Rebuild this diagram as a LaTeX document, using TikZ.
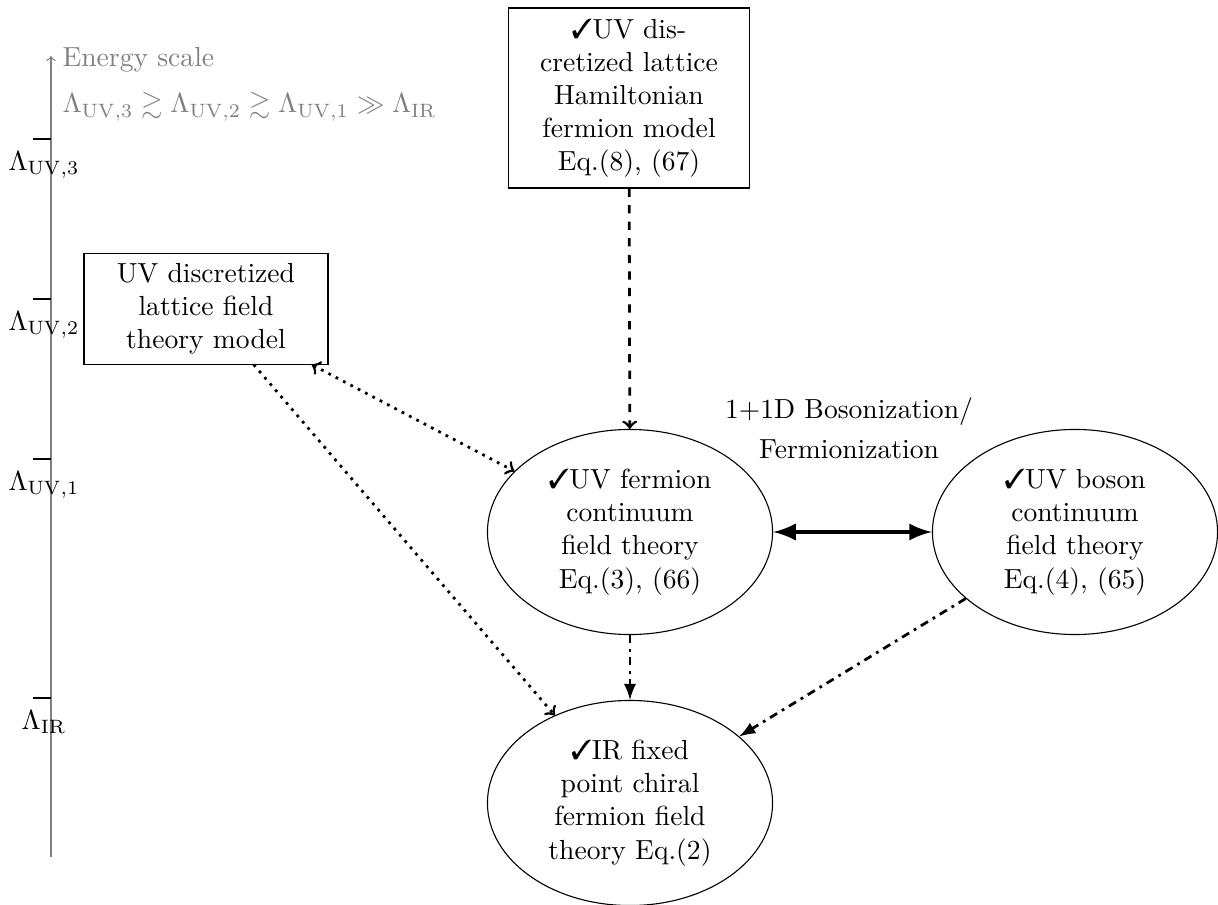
\documentclass[tikz,border=0pt]{standalone}
\usepackage{amssymb}
\usepackage{pifont}
\usetikzlibrary{shapes.geometric}
\begin{document}
\begin{tikzpicture}[x=0.3623pt, y=-0.3623pt,
  boxnode/.style={draw, rectangle, align=center, inner sep=0pt},
  ellnode/.style={draw, ellipse, align=center, inner sep=0pt, minimum width=103.3pt, minimum height=74.3pt},
  scaletext/.style={gray, anchor=base west, inner sep=0pt},
  ticklabel/.style={below, yshift=-1pt},
  conn/.style={line width=1pt}]
\useasboundingbox (0,0) rectangle (1218,905);

% energy axis
\coordinate (axbot) at (51,857);
\coordinate (axtop) at (51,56);
\draw[gray, ->] (axbot) -- (axtop);
\node[scaletext] (escale) at (62,67) {Energy scale};
\node[scaletext] (order) at (62,113) {$\Lambda_{\mathrm{UV},3}\gtrsim\Lambda_{\mathrm{UV},2}\gtrsim\Lambda_{\mathrm{UV},1}\gg\Lambda_{\mathrm{IR}}$};

\draw (33,139) -- (51,139);
\node[ticklabel] (t3) at (44,139) {$\Lambda_{\mathrm{UV},3}$};
\draw (33,299) -- (51,299);
\node[ticklabel] (t2) at (44,299) {$\Lambda_{\mathrm{UV},2}$};
\draw (33,459) -- (51,459);
\node[ticklabel] (t1) at (44,459) {$\Lambda_{\mathrm{UV},1}$};
\draw (33,698) -- (51,698);
\node[ticklabel] (tir) at (44,698) {$\Lambda_{\mathrm{IR}}$};

% nodes
\node[boxnode, minimum width=87pt, minimum height=65.2pt] (top) at (629,98)
  {\ding{51}UV dis-\\cretized lattice\\Hamiltonian\\fermion model\\Eq.(8), (67)};
\node[boxnode, minimum width=88.4pt, minimum height=39.9pt] (left) at (206,309)
  {UV discretized\\lattice field\\theory model};
\node[ellnode] (ferm) at (630,532)
  {\ding{51}UV fermion\\continuum\\field theory\\Eq.(3), (66)};
\node[ellnode] (bos) at (1075,532)
  {\ding{51}UV boson\\continuum\\field theory\\Eq.(4), (65)};
\node[ellnode] (ir) at (630,803)
  {\ding{51}IR fixed\\point chiral\\fermion field\\theory Eq.(2)};
\node[align=center, inner sep=0pt] (bzlabel) at (849,428)
  {1+1D Bosonization/\\[2.5pt]Fermionization};

% connectors
\draw[conn, dashed, ->] (top) -- (ferm);
\draw[conn, dotted, <->] (left) -- (ferm);
\draw[conn, dotted, ->] (left) -- (ir);
\draw[conn, dashdotted, -latex] (ferm) -- (ir);
\draw[conn, dashdotted, -latex] (bos) -- (ir);
\draw[line width=1.8pt, latex-latex] (ferm) -- (bos);
\end{tikzpicture}
\end{document}
